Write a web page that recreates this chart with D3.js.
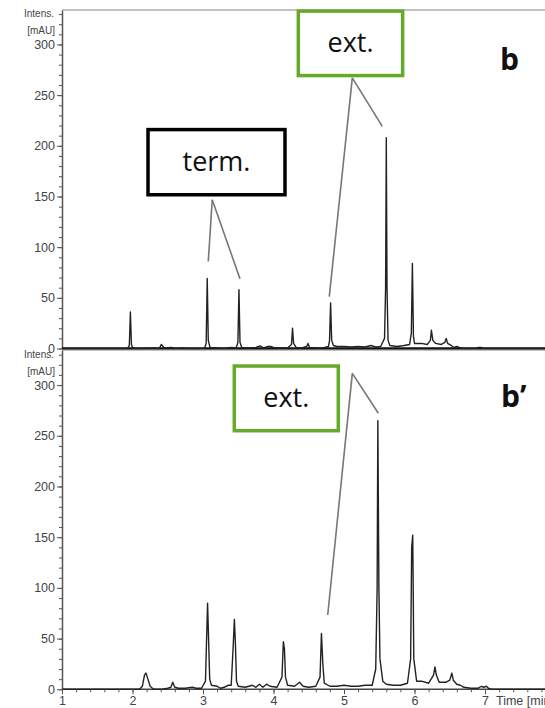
<!DOCTYPE html>
<html>
<head>
<meta charset="utf-8">
<script src="https://cdn.jsdelivr.net/npm/d3@7"></script>
<style>
  body { margin: 0; background: #fff; }
  .axis text { font-family: "Liberation Sans", Arial, sans-serif; font-size: 12.5px; fill: #444; }
  .axis path, .axis line { stroke: #555; }
</style>
</head>
<body>
<div class="chart"></div>
<script>
// chromatogram b (top) : retention time [min] and intensity [mAU]
const topTimes = [1.0, 1.93, 1.955, 1.97, 1.985, 2.0, 2.05, 2.3, 2.38, 2.41, 2.45, 2.55, 2.6, 2.7, 2.8,
  3.02, 3.045, 3.06, 3.075, 3.1, 3.2, 3.3, 3.4, 3.47, 3.495, 3.51, 3.525, 3.55, 3.65, 3.75, 3.81, 3.86,
  3.92, 3.96, 4.0, 4.1, 4.2, 4.255, 4.27, 4.285, 4.32, 4.4, 4.47, 4.49, 4.51, 4.6, 4.7, 4.78, 4.795,
  4.81, 4.825, 4.85, 4.9, 5.0, 5.1, 5.2, 5.3, 5.38, 5.45, 5.52, 5.575, 5.59, 5.6, 5.61, 5.625, 5.65,
  5.75, 5.85, 5.93, 5.955, 5.97, 5.985, 6.0, 6.1, 6.18, 6.225, 6.24, 6.26, 6.3, 6.38, 6.43, 6.45, 6.47,
  6.52, 6.56, 6.6, 6.65, 6.7, 6.88, 6.9, 6.95, 6.97, 7.85];
const topValues = [0, 0, 3, 36, 4, 1, 0, 0.5, 0, 4, 0.5, 1, 0, 0.5, 0,
  0, 5, 69, 8, 1, 0.5, 0, 1, 0.5, 6, 58, 6, 1, 0.5, 1, 2.5, 0.5,
  2, 2, 1, 0.5, 0.5, 4, 20, 5, 1, 0.5, 2, 5, 1, 0.5, 0.5, 2, 8,
  45, 8, 3, 2, 2, 1.5, 2, 1.5, 3, 1.5, 2, 10, 60, 208, 60, 8, 3,
  2, 3, 4, 15, 84, 12, 5, 5, 4, 8, 18, 8, 5, 4, 6, 10, 5,
  3, 1, 2, 0.5, 0, 0, 1, 1, 0, 0];

// chromatogram b' (bottom)
const botTimes = [1.0, 2.1, 2.14, 2.17, 2.19, 2.21, 2.25, 2.3, 2.42, 2.5, 2.545, 2.57, 2.6, 2.65, 2.75,
  2.85, 2.9, 2.98, 3.035, 3.055, 3.065, 3.075, 3.095, 3.12, 3.2, 3.25, 3.3, 3.36, 3.4, 3.43, 3.445,
  3.46, 3.475, 3.5, 3.6, 3.7, 3.75, 3.8, 3.85, 3.9, 3.95, 4.05, 4.12, 4.14, 4.155, 4.17, 4.2, 4.3,
  4.37, 4.42, 4.5, 4.6, 4.66, 4.68, 4.7, 4.72, 4.8, 4.9, 5.0, 5.1, 5.2, 5.3, 5.4, 5.45, 5.47, 5.48,
  5.495, 5.51, 5.55, 5.6, 5.7, 5.8, 5.9, 5.945, 5.96, 5.975, 5.99, 6.03, 6.1, 6.2, 6.27, 6.29, 6.31,
  6.35, 6.45, 6.5, 6.53, 6.55, 6.6, 6.65, 6.7, 6.8, 6.9, 6.95, 6.98, 7.02, 7.05, 7.1, 7.35, 7.85];
const botValues = [0, 0, 3, 14, 16, 12, 3, 0, 0, 1, 2, 7, 2, 1, 1,
  2, 1, 1, 8, 60, 85, 60, 10, 4, 3, 1, 2, 4, 4, 45, 69,
  45, 8, 3, 2, 4, 2, 5, 2, 5, 3, 2, 12, 47, 40, 12, 4, 3,
  7, 3, 2, 3, 12, 55, 25, 6, 3, 3, 4, 3, 3, 4, 4, 20, 100, 265,
  100, 30, 8, 5, 4, 4, 6, 30, 140, 152, 30, 8, 8, 6, 14, 22, 14,
  7, 7, 9, 16, 9, 5, 4, 2, 1, 1, 3, 2, 3, 1, 0, 0, 0];

const yTicks = [0, 50, 100, 150, 200, 250, 300];
const xTicks = [1, 2, 3, 4, 5, 6, 7];

// annotation callouts, in data units [time, mAU]
const topTermBox = [[2.22, 216], [4.163, 151.7]];
const topTermLines = [[[3.131, 146.8], [3.075, 85.8]], [[3.131, 146.8], [3.525, 68.7]]];
const topExtBox = [[4.352, 332.9], [5.832, 269.3]];
const topExtLines = [[[5.118, 267.1], [5.543, 219.2]], [[5.118, 267.1], [4.791, 51.2]]];
const botExtBox = [[3.444, 318.8], [4.919, 255.0]];
const botExtLines = [[[5.118, 311.6], [5.487, 272.2]], [[5.118, 311.6], [4.769, 73.3]]];

const W = 545, H = 708;
const axisX = 62;

const svg = d3.select('.chart').append('svg')
    .attr('width', W)
    .attr('height', H);

const xScale = d3.scaleLinear()
    .domain([1, 7.851])
    .range([axisX, W]);

const panels = [
  {times: topTimes, values: topValues, top: 10, zero: 348.5, yMax: 334, base: 2.5, baseColor: '#111',
   boxes: [{box: topTermBox, text: 'term.', color: '#000', lines: topTermLines},
           {box: topExtBox, text: 'ext.', color: '#66aa2a', lines: topExtLines}],
   label: 'b', labelPos: [500, 70]},
  {times: botTimes, values: botValues, top: 350, zero: 689.3, yMax: 334.6, base: 1.5, baseColor: '#444',
   boxes: [{box: botExtBox, text: 'ext.', color: '#66aa2a', lines: botExtLines}],
   label: 'b\u2019', labelPos: [501, 407]}
];

const drawPanel = function (p) {
  const yScale = d3.scaleLinear()
      .domain([0, p.yMax])
      .range([p.zero, p.top]);

  const g = svg.append('g').attr('class', 'panel');

  // frame top
  g.append('line')
      .attr('x1', axisX).attr('x2', W)
      .attr('y1', p.top).attr('y2', p.top)
      .attr('stroke', '#888').attr('stroke-width', 1.2);

  // minor y ticks
  g.append('g')
      .attr('class', 'axis')
      .attr('transform', `translate(${axisX},0)`)
      .call(d3.axisLeft(yScale).tickValues(d3.range(0, p.yMax, 10)).tickSize(3).tickFormat(''))
      .call(a => a.select('.domain').remove());

  const yAxis = g.append('g')
      .attr('class', 'axis')
      .attr('transform', `translate(${axisX},0)`)
      .call(d3.axisLeft(yScale).tickValues(yTicks).tickSize(5).tickPadding(2).tickSizeOuter(0));
  yAxis.select('.domain').attr('stroke-width', 1.5);

  g.append('text')
      .attr('x', 54).attr('y', yScale(300) - 27)
      .attr('text-anchor', 'end')
      .style('font', '10px "Liberation Sans", Arial, sans-serif')
      .attr('fill', '#444')
      .text('Intens.');
  g.append('text')
      .attr('x', 55).attr('y', yScale(300) - 10)
      .attr('text-anchor', 'end')
      .style('font', '10px "Liberation Sans", Arial, sans-serif')
      .attr('fill', '#444')
      .text('[mAU]');

  // baseline
  g.append('line')
      .attr('x1', axisX).attr('x2', W)
      .attr('y1', yScale(0)).attr('y2', yScale(0))
      .attr('stroke', p.baseColor).attr('stroke-width', p.base);

  const line = d3.line()
      .x(d => xScale(d[0]))
      .y(d => yScale(d[1]));

  g.append('path')
      .datum(d3.zip(p.times, p.values))
      .attr('fill', 'none')
      .attr('stroke', '#222')
      .attr('stroke-width', 1.4)
      .attr('stroke-linejoin', 'round')
      .attr('d', line);

  // callouts
  p.boxes.forEach(b => {
    b.lines.forEach(l => {
      g.append('line')
          .attr('x1', xScale(l[0][0])).attr('y1', yScale(l[0][1]))
          .attr('x2', xScale(l[1][0])).attr('y2', yScale(l[1][1]))
          .attr('stroke', '#777').attr('stroke-width', 1.6);
    });
    const x0 = xScale(b.box[0][0]), x1 = xScale(b.box[1][0]);
    const y0 = yScale(b.box[0][1]), y1 = yScale(b.box[1][1]);
    g.append('rect')
        .attr('x', x0).attr('y', y0)
        .attr('width', x1 - x0).attr('height', y1 - y0)
        .attr('fill', '#fff')
        .attr('stroke', b.color).attr('stroke-width', 3.5);
    g.append('text')
        .attr('x', (x0 + x1) / 2).attr('y', (y0 + y1) / 2 + 9)
        .attr('text-anchor', 'middle')
        .style('font', '27px "Open Sans", sans-serif')
        .attr('fill', '#111')
        .text(b.text);
  });

  g.append('text')
      .attr('x', p.labelPos[0]).attr('y', p.labelPos[1])
      .style('font', 'bold 30px "Open Sans", sans-serif')
      .attr('fill', '#111')
      .text(p.label);

  return yScale;
};

panels.forEach(drawPanel);

// time axis (bottom panel only)
svg.append('g')
    .attr('class', 'axis')
    .attr('transform', `translate(0,${panels[1].zero})`)
    .call(d3.axisBottom(xScale).tickValues(d3.range(1, 7.85, 0.2)).tickSize(3).tickFormat(''))
    .call(a => a.select('.domain').remove());
svg.append('g')
    .attr('class', 'axis')
    .attr('transform', `translate(0,${panels[1].zero})`)
    .call(d3.axisBottom(xScale).tickValues(xTicks).tickFormat(d3.format('d'))
      .tickSize(5).tickPadding(2).tickSizeOuter(0))
    .call(a => a.select('.domain').remove());

svg.append('text')
    .attr('x', 496).attr('y', 705)
    .style('font', '12.5px "Liberation Sans", Arial, sans-serif')
    .attr('fill', '#444')
    .text('Time [min]');
</script>
</body>
</html>
